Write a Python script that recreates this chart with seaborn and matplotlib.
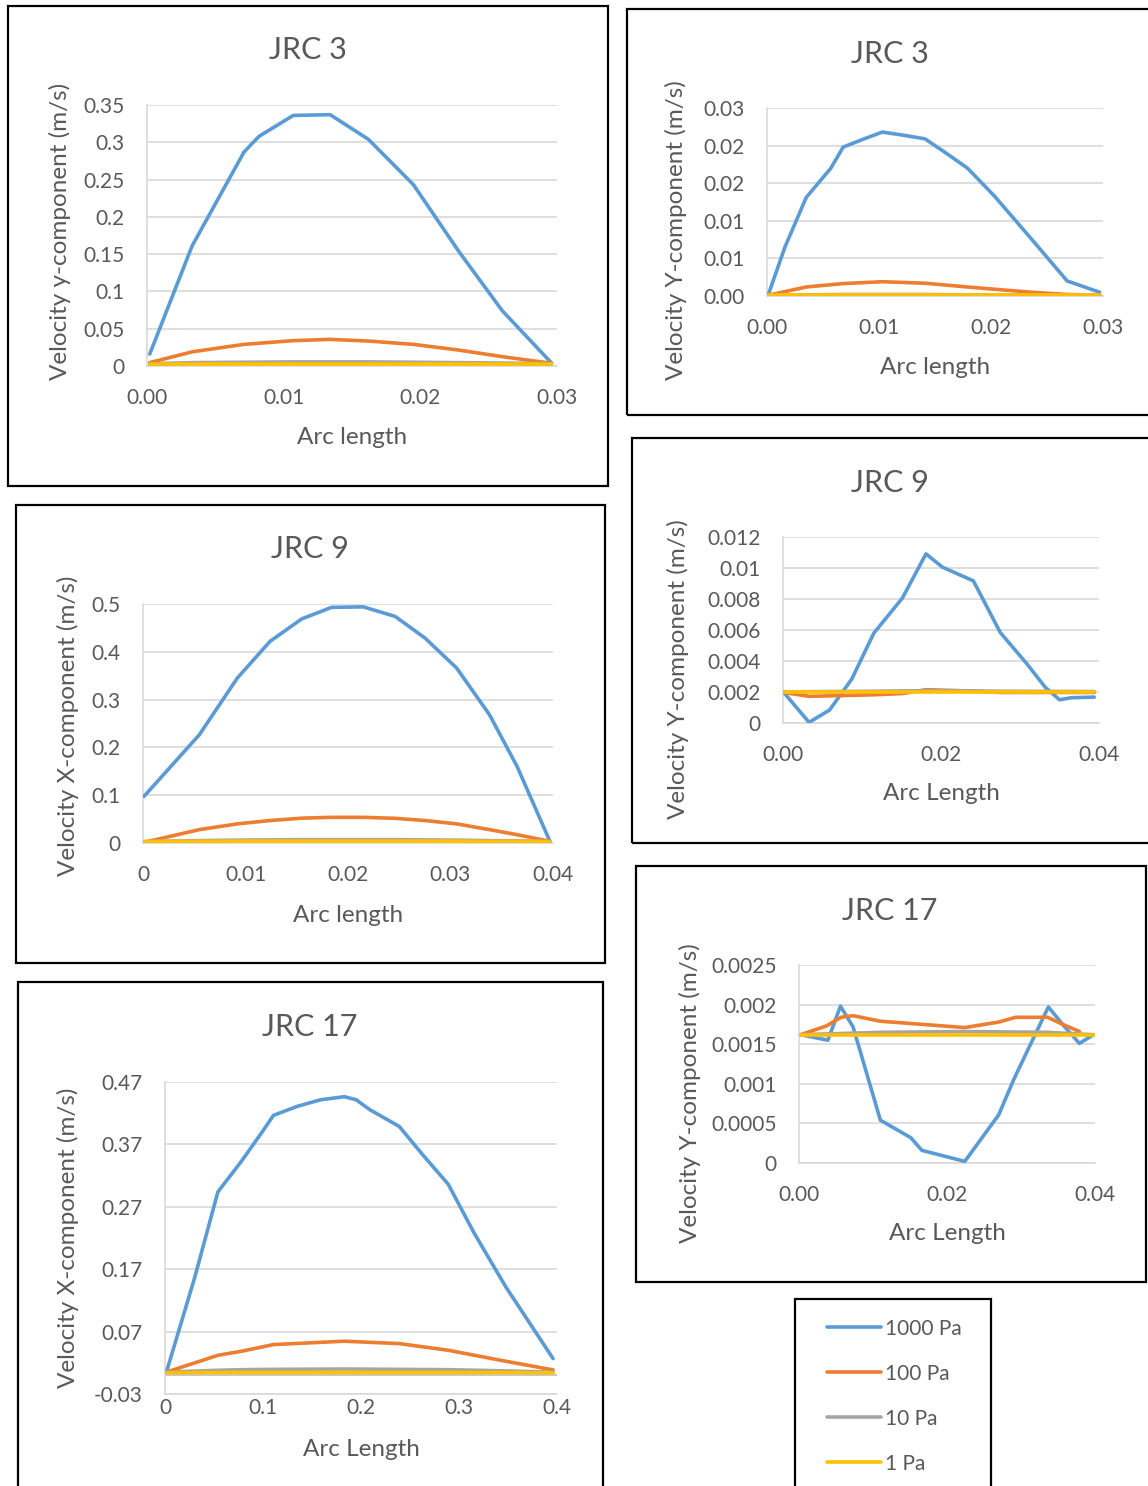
import pandas as pd
import matplotlib
matplotlib.use("Agg")
import matplotlib.pyplot as plt
import seaborn as sns
from matplotlib.patches import Rectangle
from matplotlib.lines import Line2D

# JRC 3, y-компонента (левый верхний)
jrc3a_arc_blue = [0.0002, 0.0033, 0.0071, 0.0082, 0.0107, 0.0134, 0.0162, 0.0195, 0.0228, 0.026, 0.0296]
jrc3a_1000 = [0.016, 0.161, 0.287, 0.308, 0.336, 0.337, 0.304, 0.243, 0.154, 0.074, 0.004]
jrc3a_arc = [0.0002, 0.0033, 0.0071, 0.0107, 0.0134, 0.0162, 0.0195, 0.0228, 0.026, 0.0296]
jrc3a_100 = [0.0045, 0.019, 0.029, 0.034, 0.0357, 0.0335, 0.029, 0.0214, 0.0125, 0.0036]
jrc3a_10 = [0.003, 0.0045, 0.005, 0.0055, 0.0055, 0.0055, 0.005, 0.0045, 0.004, 0.003]
jrc3a_1 = [0.0025, 0.0026, 0.0027, 0.0027, 0.0027, 0.0027, 0.0027, 0.0026, 0.0026, 0.0025]

# JRC 3, Y-компонента (правый верхний)
jrc3b_arc_blue = [0.0001, 0.0016, 0.0035, 0.0057, 0.0068, 0.0085, 0.0103, 0.0121, 0.0141, 0.0158, 0.0179, 0.0203, 0.0236, 0.0268, 0.0297]
jrc3b_1000 = [0.0001, 0.0065, 0.0131, 0.0170, 0.0198, 0.0208, 0.0218, 0.0214, 0.0209, 0.0192, 0.0170, 0.0133, 0.0076, 0.0020, 0.0005]
jrc3b_arc = [0.0001, 0.0035, 0.0068, 0.0103, 0.0141, 0.0179, 0.0203, 0.0236, 0.0268, 0.0297]
jrc3b_100 = [0.0001, 0.0012, 0.00165, 0.0019, 0.0017, 0.0012, 0.0009, 0.0005, 0.0002, 0.0001]
jrc3b_10 = [0.0001, 0.00015, 0.0002, 0.0002, 0.0002, 0.00015, 0.00015, 0.0001, 0.0001, 0.0001]
jrc3b_1 = [0.0001, 0.0001, 0.0001, 0.0001, 0.0001, 0.0001, 0.0001, 0.0001, 0.0001, 0.0001]

# JRC 9, Y-компонента (правый средний)
jrc9y_arc_blue = [0.0001, 0.0033, 0.0059, 0.0087, 0.0115, 0.0151, 0.0181, 0.0202, 0.0241, 0.0275, 0.0309, 0.0332, 0.035, 0.0365, 0.0394]
jrc9y_1000 = [0.00197, 0.00004, 0.00084, 0.00283, 0.0058, 0.00805, 0.01091, 0.01005, 0.00917, 0.00584, 0.0038, 0.0023, 0.0015, 0.00163, 0.00167]
jrc9y_arc = [0.0001, 0.0033, 0.0115, 0.0151, 0.0181, 0.0241, 0.0275, 0.0394]
jrc9y_100 = [0.00197, 0.00172, 0.00182, 0.0019, 0.00215, 0.00206, 0.00197, 0.00197]
jrc9y_10 = [0.002, 0.00202, 0.00205, 0.00207, 0.00208, 0.00207, 0.00205, 0.00203]
jrc9y_1 = [0.00202, 0.00202, 0.00202, 0.00202, 0.00202, 0.00202, 0.00202, 0.00202]

# JRC 9, X-компонента (левый средний)
jrc9x_arc = [0.0001, 0.0055, 0.0092, 0.0124, 0.0155, 0.0184, 0.0215, 0.0246, 0.0275, 0.0306, 0.0338, 0.0365, 0.0397]
jrc9x_1000 = [0.0976, 0.2266, 0.345, 0.422, 0.469, 0.493, 0.494, 0.474, 0.429, 0.366, 0.2685, 0.160, 0.0035]
jrc9x_100 = [0.0014, 0.028, 0.040, 0.047, 0.052, 0.0537, 0.0537, 0.0516, 0.047, 0.040, 0.028, 0.0174, 0.0035]
jrc9x_10 = [0.003, 0.005, 0.006, 0.0065, 0.007, 0.007, 0.007, 0.007, 0.0065, 0.006, 0.005, 0.0045, 0.003]
jrc9x_1 = [0.003, 0.0035, 0.004, 0.004, 0.004, 0.004, 0.004, 0.004, 0.004, 0.004, 0.0035, 0.0035, 0.003]

# JRC 17, X-компонента (левый нижний)
jrc17x_arc_blue = [0.002, 0.030, 0.054, 0.078, 0.1005, 0.1106, 0.135, 0.159, 0.183, 0.195, 0.209, 0.239, 0.263, 0.289, 0.3156, 0.3477, 0.396]
jrc17x_1000 = [0.008, 0.155, 0.294, 0.343, 0.393, 0.4165, 0.431, 0.4416, 0.4464, 0.4416, 0.4256, 0.3988, 0.3533, 0.3062, 0.2275, 0.1418, 0.0267]
jrc17x_arc = [0.002, 0.054, 0.078, 0.1106, 0.183, 0.239, 0.289, 0.3477, 0.396]
jrc17x_100 = [0.0054, 0.032, 0.0385, 0.0492, 0.0546, 0.0508, 0.0401, 0.0225, 0.0086]
jrc17x_10 = [0.005, 0.008, 0.009, 0.0095, 0.010, 0.0095, 0.009, 0.007, 0.005]
jrc17x_1 = [0.004, 0.0045, 0.0045, 0.0045, 0.0045, 0.0045, 0.0045, 0.0045, 0.004]

# JRC 17, Y-компонента (правый нижний)
jrc17y_arc_blue = [0.0002, 0.0039, 0.0056, 0.0073, 0.011, 0.0151, 0.0166, 0.0224, 0.027, 0.029, 0.0318, 0.0337, 0.0359, 0.0379, 0.0398]
jrc17y_1000 = [0.00162, 0.00155, 0.00198, 0.00172, 0.00054, 0.00032, 0.00016, 0.00002, 0.00061, 0.00105, 0.0016, 0.00197, 0.00172, 0.00151, 0.00162]
jrc17y_arc_orange = [0.0002, 0.0037, 0.0057, 0.0073, 0.011, 0.0167, 0.0224, 0.027, 0.0293, 0.0336, 0.0354, 0.0379]
jrc17y_100 = [0.00162, 0.00173, 0.00184, 0.00186, 0.00179, 0.00175, 0.00171, 0.00178, 0.00184, 0.00184, 0.00176, 0.00166]
jrc17y_arc = [0.0002, 0.011, 0.0224, 0.0336, 0.0398]
jrc17y_10 = [0.00162, 0.00165, 0.00166, 0.00165, 0.00162]
jrc17y_1 = [0.00162, 0.00162, 0.00162, 0.00162, 0.00162]

pressures = ["1000 Pa", "100 Pa", "10 Pa", "1 Pa"]
palette = {"1000 Pa": "#5B9BD5", "100 Pa": "#ED7D31", "10 Pa": "#A5A5A5", "1 Pa": "#FFC000"}

sns.set_theme(style="white")
plt.rcParams['font.family'] = ['Lato', 'DejaVu Sans']
text_color = "#595959"

W, H = 1148, 1486
fig = plt.figure(figsize=(W / 100, H / 100), dpi=100)


def fx(px):
    return px / W


def fy(py):
    return 1 - py / H


def panel(box, area, title, title_xy, xlabel, xlabel_y, ylabel, ylabel_xy,
          xlim, xticks, xticklabels, ylim, yticks, yticklabels, series, xpad=16):
    # рамка вокруг диаграммы
    bx0, by0, bx1, by1 = box
    fig.patches.append(Rectangle((fx(bx0), fy(by1)), fx(bx1 - bx0), (by1 - by0) / H,
                                 transform=fig.transFigure, fill=False,
                                 edgecolor="black", linewidth=1.6))
    x0, y0, x1, y1 = area
    ax = fig.add_axes([fx(x0), fy(y1), fx(x1 - x0), (y1 - y0) / H])
    frames = []
    for name, xs, ys in series:
        frames.append(pd.DataFrame({"arc": xs, "v": ys, "p": name}))
    df = pd.concat(frames, ignore_index=True)
    sns.lineplot(data=df, x="arc", y="v", hue="p", hue_order=pressures, palette=palette,
                 linewidth=2.6, legend=False, ax=ax, sort=False, zorder=3)
    ax.set_xlim(xlim)
    ax.set_ylim(ylim)
    ax.set_xticks(xticks)
    ax.set_xticklabels(xticklabels)
    ax.set_yticks(yticks)
    ax.set_yticklabels(yticklabels)
    ax.grid(axis="y", color="#D9D9D9", linewidth=1.2)
    ax.grid(axis="x", visible=False)
    for s in ["top", "right"]:
        ax.spines[s].set_visible(False)
    ax.spines["left"].set_color("#D9D9D9")
    ax.spines["bottom"].set_color("#D9D9D9")
    ax.spines["left"].set_linewidth(1.2)
    ax.spines["bottom"].set_linewidth(1.2)
    if ylim[0] < 0:
        ax.axhline(0, color="#BFBFBF", linewidth=1.2, zorder=2)
    ax.tick_params(axis="y", length=0, pad=16, labelsize=15, labelcolor=text_color)
    ax.tick_params(axis="x", length=0, pad=xpad, labelsize=15, labelcolor=text_color)
    ax.set_xlabel("")
    ax.set_ylabel("")
    fig.text(fx(title_xy[0]), fy(title_xy[1]), title, ha="center", va="center",
             fontsize=22, color=text_color)
    fig.text(fx((x0 + x1) / 2), fy(xlabel_y), xlabel, ha="center", va="center",
             fontsize=17.5, color=text_color)
    fig.text(fx(ylabel_xy[0]), fy(ylabel_xy[1]), ylabel, ha="center", va="center",
             rotation=90, fontsize=17.5, color=text_color)
    return ax


# JRC 3 (левый верхний)
panel((8, 6, 608, 486), (147, 105, 557, 366), "JRC 3", (308, 50), "Arc length", 437,
      "Velocity y-component (m/s)", (60, 231),
      (0, 0.03), [0, 0.01, 0.02, 0.03], ["0.00", "0.01", "0.02", "0.03"],
      (0, 0.35), [0, 0.05, 0.1, 0.15, 0.2, 0.25, 0.3, 0.35],
      ["0", "0.05", "0.1", "0.15", "0.2", "0.25", "0.3", "0.35"],
      [("1000 Pa", jrc3a_arc_blue, jrc3a_1000), ("100 Pa", jrc3a_arc, jrc3a_100),
       ("10 Pa", jrc3a_arc, jrc3a_10), ("1 Pa", jrc3a_arc, jrc3a_1)])

# JRC 3 (правый верхний)
panel((627, 9, 1160, 415), (767, 108, 1103, 296), "JRC 3", (890, 54), "Arc length", 367,
      "Velocity Y-component (m/s)", (676, 230),
      (0, 0.03), [0, 0.01, 0.02, 0.03], ["0.00", "0.01", "0.02", "0.03"],
      (0, 0.025), [0, 0.005, 0.01, 0.015, 0.02, 0.025],
      ["0.00", "0.01", "0.01", "0.02", "0.02", "0.03"],
      [("1000 Pa", jrc3b_arc_blue, jrc3b_1000), ("100 Pa", jrc3b_arc, jrc3b_100),
       ("10 Pa", jrc3b_arc, jrc3b_10), ("1 Pa", jrc3b_arc, jrc3b_1)])

# JRC 9 (правый средний)
panel((632, 438, 1160, 843), (783, 537, 1099, 723), "JRC 9", (890, 483), "Arc Length", 794,
      "Velocity Y-component (m/s)", (678, 669),
      (0, 0.04), [0, 0.02, 0.04], ["0.00", "0.02", "0.04"],
      (0, 0.012), [0, 0.002, 0.004, 0.006, 0.008, 0.01, 0.012],
      ["0", "0.002", "0.004", "0.006", "0.008", "0.01", "0.012"],
      [("1000 Pa", jrc9y_arc_blue, jrc9y_1000), ("100 Pa", jrc9y_arc, jrc9y_100),
       ("10 Pa", jrc9y_arc, jrc9y_10), ("1 Pa", jrc9y_arc, jrc9y_1)])

# JRC 9 (левый средний)
panel((16, 505, 605, 963), (143, 604, 553, 843), "JRC 9", (310, 549), "Arc length", 915,
      "Velocity X-component (m/s)", (68, 726),
      (0, 0.04), [0, 0.01, 0.02, 0.03, 0.04], ["0", "0.01", "0.02", "0.03", "0.04"],
      (0, 0.5), [0, 0.1, 0.2, 0.3, 0.4, 0.5],
      ["0", "0.1", "0.2", "0.3", "0.4", "0.5"],
      [("1000 Pa", jrc9x_arc, jrc9x_1000), ("100 Pa", jrc9x_arc, jrc9x_100),
       ("10 Pa", jrc9x_arc, jrc9x_10), ("1 Pa", jrc9x_arc, jrc9x_1)])

# JRC 17 (левый нижний)
panel((18, 982, 603, 1500), (165, 1082, 557, 1394), "JRC 17", (310, 1027), "Arc Length", 1449,
      "Velocity X-component (m/s)", (68, 1238),
      (0, 0.4), [0, 0.1, 0.2, 0.3, 0.4], ["0", "0.1", "0.2", "0.3", "0.4"],
      (-0.03, 0.47), [-0.03, 0.07, 0.17, 0.27, 0.37, 0.47],
      ["-0.03", "0.07", "0.17", "0.27", "0.37", "0.47"],
      [("1000 Pa", jrc17x_arc_blue, jrc17x_1000), ("100 Pa", jrc17x_arc, jrc17x_100),
       ("10 Pa", jrc17x_arc, jrc17x_10), ("1 Pa", jrc17x_arc, jrc17x_1)], xpad=3)

# JRC 17 (правый нижний)
panel((636, 866, 1146, 1282), (799, 965, 1095, 1163), "JRC 17", (890, 911), "Arc Length", 1233,
      "Velocity Y-component (m/s)", (690, 1093),
      (0, 0.04), [0, 0.02, 0.04], ["0.00", "0.02", "0.04"],
      (0, 0.0025), [0, 0.0005, 0.001, 0.0015, 0.002, 0.0025],
      ["0", "0.0005", "0.001", "0.0015", "0.002", "0.0025"],
      [("1000 Pa", jrc17y_arc_blue, jrc17y_1000), ("100 Pa", jrc17y_arc_orange, jrc17y_100),
       ("10 Pa", jrc17y_arc, jrc17y_10), ("1 Pa", jrc17y_arc, jrc17y_1)])

# Общая легенда
fig.patches.append(Rectangle((fx(795), fy(1500)), fx(196), (1500 - 1299) / H,
                             transform=fig.transFigure, fill=False,
                             edgecolor="black", linewidth=1.6))
handles = [Line2D([0], [0], color=palette[p], linewidth=2.6) for p in pressures]
fig.legend(handles, pressures, loc="upper left", bbox_to_anchor=(fx(808), fy(1300)),
           frameon=False, fontsize=15, handlelength=2.6, handletextpad=0.2,
           labelspacing=1.2, labelcolor=text_color)

fig.savefig("out.png", dpi=100)
